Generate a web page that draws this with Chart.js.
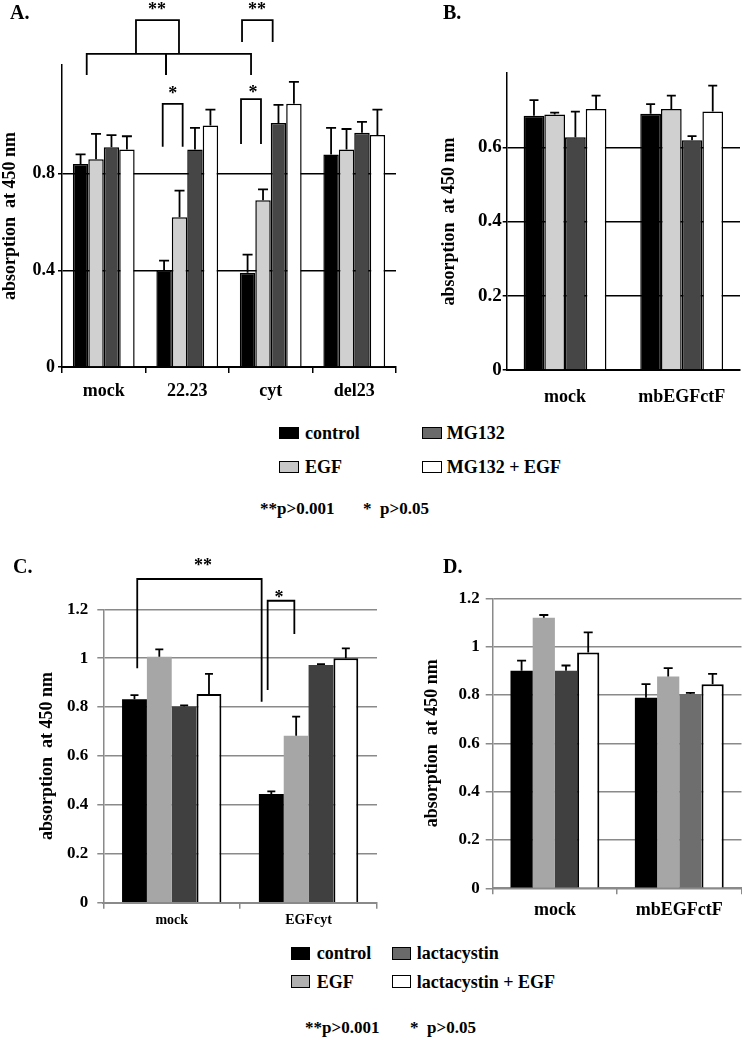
<!DOCTYPE html>
<html><head><meta charset="utf-8">
<script src="https://cdn.jsdelivr.net/npm/chart.js@4"></script>
<style>
body{margin:0;background:#fff;width:742px;height:1039px;position:relative;overflow:hidden;font-family:"Liberation Serif","Times New Roman",serif;font-weight:bold;color:#000}
canvas{position:absolute}
.t{position:absolute;white-space:pre;line-height:1;transform:translateY(-50%)}
.sw{position:absolute;box-sizing:border-box;border:1.5px solid #000}
</style></head><body>
<canvas id="cA" width="400" height="415" style="left:0;top:0"></canvas>
<canvas id="cB" width="342" height="415" style="left:400px;top:0"></canvas>
<canvas id="cC" width="380" height="395" style="left:0;top:540px"></canvas>
<canvas id="cD" width="362" height="395" style="left:380px;top:540px"></canvas>
<div id="overlay"></div>
<script>
// ---------- data ----------
const yTitle = 'absorption  at 450 nm';

const catsA = ['mock', '22.23', 'cyt', 'del23'];
const seriesA = ['control', 'EGF', 'MG132', 'MG132 + EGF'];
const controlA = [0.84, 0.40, 0.39, 0.88];
const egfA = [0.86, 0.62, 0.69, 0.90];
const mg132A = [0.91, 0.90, 1.01, 0.97];
const mg132EgfA = [0.90, 1.00, 1.09, 0.96];
const controlErrA = [0.04, 0.04, 0.075, 0.11];
const egfErrA = [0.105, 0.11, 0.045, 0.085];
const mg132ErrA = [0.05, 0.09, 0.075, 0.045];
const mg132EgfErrA = [0.055, 0.065, 0.09, 0.105];
const yTicksA = [0, 0.4, 0.8];

const catsB = ['mock', 'mbEGFctF'];
const controlB = [0.685, 0.69];
const egfB = [0.688, 0.703];
const mg132B = [0.627, 0.619];
const mg132EgfB = [0.703, 0.696];
const controlErrB = [0.042, 0.026];
const egfErrB = [0.005, 0.036];
const mg132ErrB = [0.069, 0.011];
const mg132EgfErrB = [0.036, 0.07];
const yTicksB = [0, 0.2, 0.4, 0.6];

const catsC = ['mock', 'EGFcyt'];
const seriesC = ['control', 'EGF', 'lactacystin', 'lactacystin + EGF'];
const controlC = [0.832, 0.445];
const egfC = [1.006, 0.683];
const lactaC = [0.802, 0.972];
const lactaEgfC = [0.854, 1.0];
const controlErrC = [0.017, 0.01];
const egfErrC = [0.03, 0.078];
const lactaErrC = [0.005, 0.004];
const lactaEgfErrC = [0.082, 0.04];
const yTicksCD = [0, 0.2, 0.4, 0.6, 0.8, 1, 1.2];

const catsD = ['mock', 'mbEGFctF'];
const controlD = [0.9, 0.789];
const egfD = [1.12, 0.876];
const lactaD = [0.9, 0.804];
const lactaEgfD = [0.976, 0.844];
const controlErrD = [0.042, 0.056];
const egfErrD = [0.011, 0.035];
const lactaErrD = [0.022, 0.005];
const lactaEgfErrD = [0.083, 0.043];

// significance annotations (category-index units on x, data units on y)
const bracketsA = [
  {x1: -0.204, x2: 0.746, y: 1.296, y1: 1.209, y2: 1.209},
  {x1: 0.746, x2: 1.764, y: 1.296, y1: 1.209, y2: 1.209},
  {x1: 0.386, x2: 0.901, y: 1.436, y1: 1.296, y2: 1.296},
  {x1: 1.656, x2: 2.023, y: 1.436, y1: 1.345, y2: 1.345},
  {x1: 0.706, x2: 0.945, y: 1.089, y1: 0.912, y2: 0.912},
  {x1: 1.644, x2: 1.883, y: 1.109, y1: 0.923, y2: 0.923}
];
const starsA = [
  {x: 0.638, y: 1.458, text: '**'},
  {x: 1.835, y: 1.458, text: '**'},
  {x: 0.826, y: 1.108, text: '*'},
  {x: 1.787, y: 1.113, text: '*'}
];
const bracketsC = [
  {x1: -0.252, x2: 0.657, y: 1.324, y1: 0.959, y2: 0.822},
  {x1: 0.701, x2: 0.896, y: 1.235, y1: 0.87, y2: 1.099}
];
const starsC = [
  {x: 0.229, y: 1.356, text: '**'},
  {x: 0.784, y: 1.226, text: '*'}
];
const pText1 = '**p>0.001';
const pText2 = '*  p>0.05';

// ---------- drawing ----------
const FAM = '"Liberation Serif","Times New Roman",serif';

const extras = {
  id: 'extras',
  afterDatasetsDraw(chart, args, o) {
    const ctx = chart.ctx, ys = chart.scales.y;
    ctx.save();
    ctx.strokeStyle = '#000';
    ctx.lineWidth = o.errWidth;
    chart.data.datasets.forEach((ds, i) => {
      chart.getDatasetMeta(i).data.forEach((bar, j) => {
        const top = ys.getPixelForValue(ds.data[j] + ds.errors[j]);
        ctx.beginPath();
        ctx.moveTo(bar.x, bar.y);
        ctx.lineTo(bar.x, top);
        ctx.moveTo(bar.x - o.cap / 2, top);
        ctx.lineTo(bar.x + o.cap / 2, top);
        ctx.stroke();
      });
    });
    ctx.restore();
  },
  afterDraw(chart, args, o) {
    const ctx = chart.ctx, xs = chart.scales.x, ys = chart.scales.y;
    ctx.save();
    ctx.strokeStyle = '#000';
    ctx.lineWidth = 1.8;
    (o.brackets || []).forEach(b => {
      ctx.beginPath();
      ctx.moveTo(xs.getPixelForValue(b.x1), ys.getPixelForValue(b.y1));
      ctx.lineTo(xs.getPixelForValue(b.x1), ys.getPixelForValue(b.y));
      ctx.lineTo(xs.getPixelForValue(b.x2), ys.getPixelForValue(b.y));
      ctx.lineTo(xs.getPixelForValue(b.x2), ys.getPixelForValue(b.y2));
      ctx.stroke();
    });
    ctx.fillStyle = '#000';
    ctx.font = 'bold 18px ' + FAM;
    ctx.textAlign = 'center';
    ctx.textBaseline = 'alphabetic';
    (o.stars || []).forEach(s => {
      ctx.fillText(s.text, xs.getPixelForValue(s.x), ys.getPixelForValue(s.y));
    });
    ctx.restore();
  }
};

const fmt = v => String(Number(v.toFixed(2)));

function panel(id, c) {
  return new Chart(document.getElementById(id), {
    type: 'bar',
    data: {
      labels: c.cats,
      datasets: c.series.map((name, i) => ({
        label: name,
        data: c.values[i],
        errors: c.errs[i],
        backgroundColor: c.colors[i],
        borderColor: '#000',
        borderWidth: c.borders[i],
        barPercentage: 1,
        categoryPercentage: c.catPct
      }))
    },
    options: {
      responsive: false, animation: false, devicePixelRatio: 1,
      layout: {padding: {left: c.padL, top: c.top, right: c.padR, bottom: 0}},
      plugins: {
        legend: {display: false}, tooltip: {enabled: false},
        extras: {errWidth: 1.8, cap: c.cap, brackets: c.brackets, stars: c.stars}
      },
      scales: {
        x: {
          grid: {display: c.xTicks, drawOnChartArea: false, drawTicks: true, tickLength: 6, color: c.axisColor, lineWidth: 1.5},
          border: {display: true, color: c.axisColor, width: 2},
          ticks: {color: '#000', font: {family: FAM, weight: 'bold', size: c.xFont}, padding: c.xPad, maxRotation: 0, autoSkip: false},
          afterFit(s) { s.height = c.xH; }
        },
        y: {
          min: 0, max: c.max,
          afterBuildTicks(s) { s.ticks = c.yTicks.map(v => ({value: v})); },
          grid: {color: c.gridColor, lineWidth: 1.5, tickLength: c.yTickLen},
          border: {display: true, color: c.axisColor, width: 1.5},
          ticks: {color: '#000', font: {family: FAM, weight: 'bold', size: c.yFont}, padding: c.yPad, callback: v => fmt(v)},
          title: {display: true, text: yTitle, color: '#000', font: {family: FAM, weight: 'bold', size: 18}, padding: 0},
          afterFit(s) { s.width = c.yW; }
        }
      }
    },
    plugins: [extras]
  });
}

panel('cA', {
  cats: catsA, series: seriesA,
  values: [controlA, egfA, mg132A, mg132EgfA],
  errs: [controlErrA, egfErrA, mg132ErrA, mg132EgfErrA],
  colors: ['#000000', '#d0d0d0', '#464646', '#ffffff'], borders: [1.5, 1.5, 1.5, 1.5],
  catPct: 0.74, padL: 0, yW: 62, top: 65, padR: 4, xH: 48, max: 1.25, yTicks: yTicksA,
  axisColor: '#000', gridColor: '#000', xTicks: true, xFont: 18, xPad: 8, yFont: 18, yPad: 3, yTickLen: 4,
  cap: 10, brackets: bracketsA, stars: starsA
});
panel('cB', {
  cats: catsB, series: seriesA,
  values: [controlB, egfB, mg132B, mg132EgfB],
  errs: [controlErrB, egfErrB, mg132ErrB, mg132EgfErrB],
  colors: ['#000000', '#d0d0d0', '#464646', '#ffffff'], borders: [1.5, 1.5, 1.5, 1.5],
  catPct: 0.71, padL: 39, yW: 67.7, top: 73, padR: 2, xH: 45, max: 0.8, yTicks: yTicksB,
  axisColor: '#000', gridColor: '#000', xTicks: false, xFont: 18, xPad: 11, yFont: 19, yPad: 1, yTickLen: 4,
  cap: 9, brackets: [], stars: []
});
panel('cC', {
  cats: catsC, series: seriesC,
  values: [controlC, egfC, lactaC, lactaEgfC],
  errs: [controlErrC, egfErrC, lactaErrC, lactaEgfErrC],
  colors: ['#000000', '#a6a6a6', '#404040', '#ffffff'], borders: [0, 0, 0, 2],
  catPct: 0.726, padL: 37, yW: 66.3, top: 69.3, padR: 3, xH: 32.3, max: 1.2, yTicks: yTicksCD,
  axisColor: '#8a8a8a', gridColor: '#8a8a8a', xTicks: true, xFont: 14, xPad: 3, yFont: 17, yPad: 9, yTickLen: 6,
  cap: 8, brackets: bracketsC, stars: starsC
});
panel('cD', {
  cats: catsD, series: seriesC,
  values: [controlD, egfD, lactaD, lactaEgfD],
  errs: [controlErrD, egfErrD, lactaErrD, lactaEgfErrD],
  colors: ['#000000', '#a6a6a6', ['#404040', '#6e6e6e'], '#ffffff'], borders: [0, 0, 0, 2],
  catPct: 0.714, padL: 42, yW: 70.7, top: 58.3, padR: 0.5, xH: 46.7, max: 1.2, yTicks: yTicksCD,
  axisColor: '#8a8a8a', gridColor: '#8a8a8a', xTicks: true, xFont: 18, xPad: 5, yFont: 17, yPad: 6, yTickLen: 7,
  cap: 9, brackets: [], stars: []
});

// ---------- text overlays (panel letters, legends, p-values) ----------
const ov = document.getElementById('overlay');
function txt(s, x, y, size) {
  const d = document.createElement('div');
  d.className = 't'; d.textContent = s;
  d.style.left = x + 'px'; d.style.top = y + 'px'; d.style.fontSize = size + 'px';
  ov.appendChild(d);
}
function sw(x, y, w, h, col) {
  const d = document.createElement('div');
  d.className = 'sw';
  Object.assign(d.style, {left: x + 'px', top: y + 'px', width: w + 'px', height: h + 'px', background: col});
  ov.appendChild(d);
}
txt('A.', 10, 12, 20); txt('B.', 443, 12, 20);
txt('C.', 13, 566, 20); txt('D.', 443, 566, 20);

function legend(names, cols, L) {
  names.forEach((n, i) => {
    const col = i >= 2 ? 1 : 0, row = i % 2;
    sw(L.swX[col], L.swY[row], L.sw[0], L.sw[1], cols[i]);
    txt(n, L.tX[col], L.tY[row], L.size);
  });
}
legend(seriesA, ['#000', '#c8c8c8', '#6a6a6a', '#fff'],
  {swX: [279, 421.7], swY: [427, 461], sw: [20, 11.5], tX: [305, 446.7], tY: [432.7, 466.7], size: 18});
legend(seriesC, ['#000', '#b0b0b0', '#6a6a6a', '#fff'],
  {swX: [290.7, 391.7], swY: [946.5, 975.2], sw: [19.5, 13], tX: [316.7, 416.7], tY: [952.7, 981.7], size: 18});
txt(pText1, 260, 508, 17); txt(pText2, 363, 508, 17);
txt(pText1, 305, 1027, 17); txt(pText2, 410, 1027, 17);
</script>
</body></html>
